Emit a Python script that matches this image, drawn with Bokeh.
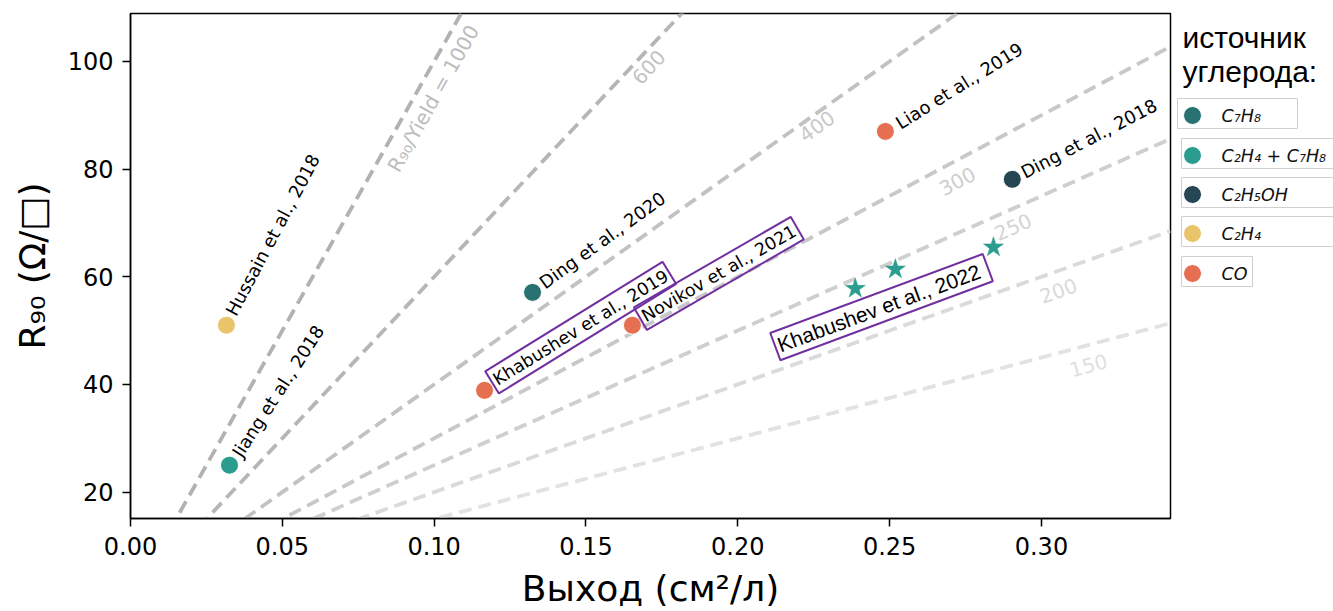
import numpy as np
from bokeh.plotting import figure
from bokeh.models import Range1d, FixedTicker, NumeralTickFormatter, ColumnDataSource
from bokeh.layouts import row
from bokeh.core.properties import value
from bokeh.embed import file_html
from bokeh.resources import INLINE

# ---------------------------------------------------------------- data
# Literature results: film yield (cm^2/L) against R90 (Ohm/sq)
studies = ["Hussain et al., 2018", "Jiang et al., 2018", "Ding et al., 2020",
           "Khabushev et al., 2019", "Novikov et al., 2021", "Liao et al., 2019",
           "Ding et al., 2018"]
yield_cm2_per_l = [0.0316, 0.0326, 0.1324, 0.1166, 0.1653, 0.2486, 0.2904]
r90_ohm_sq = [51.0, 25.0, 57.1, 38.9, 51.0, 87.0, 78.1]
carbon_source = ["C2H4", "C2H4+C7H8", "C7H8", "CO", "CO", "CO", "C2H5OH"]
boxed_study = [False, False, False, True, True, False, False]

# Khabushev et al., 2022 samples (stars)
khab2022_label = "Khabushev  et al., 2022"
khab2022_yield = [0.2387, 0.2519, 0.2842]
khab2022_r90 = [57.8, 61.4, 65.5]
khab2022_source = "C2H4+C7H8"

# constant R90 / Yield guide lines
ratio_levels = [1000, 600, 400, 300, 250, 200, 150]
ratio_texts = ["R₉₀/Yield = 1000", "600", "400", "300", "250", "200", "150"]

# carbon sources for the legend
source_keys = ["C7H8", "C2H4+C7H8", "C2H5OH", "C2H4", "CO"]
source_labels = ["C₇H₈", "C₂H₄ + C₇H₈", "C₂H₅OH", "C₂H₄", "CO"]
source_colors = ["#287271", "#2a9d8f", "#264653", "#e9c46a", "#e76f51"]

x_ticks = [0.0, 0.05, 0.10, 0.15, 0.20, 0.25, 0.30]
y_ticks = [20, 40, 60, 80, 100]
x_title = "Выход (см²/л)"
y_title = "R₉₀ (Ω/□)"

# ---------------------------------------------------------------- layout
W_MAIN, W_LEG, H = 1172, 161, 611
B_LEFT, B_RIGHT, B_TOP, B_BOTTOM = 130, 2, 13, 93
X0, X1 = 0.0, 0.3425
Y0, Y1 = 15.1, 108.9
px_per_x = (W_MAIN - B_LEFT - B_RIGHT) / (X1 - X0)
px_per_y = (H - B_TOP - B_BOTTOM) / (Y1 - Y0)

PURPLE = "#7030a0"
color_of = dict(zip(source_keys, source_colors))

p = figure(width=W_MAIN, height=H, x_range=Range1d(X0, X1), y_range=Range1d(Y0, Y1),
           output_backend="svg", toolbar_location=None,
           min_border_left=B_LEFT, min_border_right=B_RIGHT,
           min_border_top=B_TOP, min_border_bottom=B_BOTTOM)
p.grid.visible = False
p.outline_line_color = "black"
p.outline_line_width = 1.5
p.background_fill_color = "white"
p.border_fill_color = "white"

for ax in (p.xaxis[0], p.yaxis[0]):
    ax.axis_line_color = "black"
    ax.axis_line_width = 1.5
    ax.major_tick_line_color = "black"
    ax.major_tick_line_width = 1.5
    ax.major_tick_out = 8
    ax.major_tick_in = 0
    ax.minor_tick_line_color = None
    ax.major_label_text_font = "DejaVu Sans"
    ax.major_label_text_font_size = "24px"
    ax.major_label_text_color = "black"
    ax.axis_label_text_font = "DejaVu Sans"
    ax.axis_label_text_font_size = "36px"
    ax.axis_label_text_font_style = "normal"
    ax.axis_label_text_color = "black"

p.xaxis.ticker = FixedTicker(ticks=x_ticks)
p.xaxis.formatter = NumeralTickFormatter(format="0.00")
p.xaxis.major_label_standoff = 10
p.xaxis.axis_label = x_title
p.xaxis.axis_label_standoff = 10

p.yaxis.ticker = FixedTicker(ticks=y_ticks)
p.yaxis.major_label_standoff = 9
p.yaxis.axis_label = y_title
p.yaxis.axis_label_standoff = 12

# ---- guide lines y = k * x
line_colors = ["#b2b2b2", "#b6b6b6", "#c2c2c2", "#c8c8c8", "#cfcfcf", "#dadada", "#e2e2e2"]
text_colors = ["#bcbcbc", "#c2c2c2", "#c9c9c9", "#cecece", "#d4d4d4", "#d9d9d9", "#dfdfdf"]
xs_line = np.array([X0, X1])
for k, c in zip(ratio_levels, line_colors):
    p.line(xs_line, k * xs_line, line_color=c, line_width=3.8, line_dash="13 7")

level_label_x = np.array([0.0947, 0.1676, 0.2240, 0.2694, 0.2884, 0.3035, 0.3138])
level_label_gap = np.array([17.5, 13.0, 11.0, 19.0, 17.0, 19.0, 20.0])
k_arr = np.array(ratio_levels, dtype=float)
theta = np.arctan(k_arr * px_per_y / px_per_x)
lvl_src = ColumnDataSource(dict(
    x=level_label_x, y=k_arr * level_label_x, text=ratio_texts, angle=theta,
    xo=level_label_gap * np.sin(theta), yo=level_label_gap * np.cos(theta),
    color=text_colors))
p.text(x="x", y="y", text="text", angle="angle", x_offset="xo", y_offset="yo",
       source=lvl_src, text_color="color", text_align="center", text_baseline="middle",
       text_font=value("DejaVu Sans"), text_font_size="20px")

# ---- study points
pt_src = ColumnDataSource(dict(
    x=yield_cm2_per_l, y=r90_ohm_sq, name=studies,
    color=[color_of[s] for s in carbon_source]))
p.scatter(x="x", y="y", source=pt_src, marker="circle", size=18,
          fill_color="color", line_color="white", line_width=1)

star_src = ColumnDataSource(dict(x=khab2022_yield, y=khab2022_r90))
p.scatter(x="x", y="y", source=star_src, marker="star", size=21,
          fill_color=color_of[khab2022_source], line_color=color_of[khab2022_source],
          line_width=0.5)

# ---- point annotations (rotated)
label_angle_deg = [62, 57, 36, 31.7, 30, 32, 27.5]
label_dx = [4, 7, 9, 7.5, 8, 12, 10]
label_dy = [-11, -10, -8, -8, -6.5, -7, -6]

plain = [i for i, b in enumerate(boxed_study) if not b]
boxed = [i for i, b in enumerate(boxed_study) if b]


def ann_source(idx):
    return ColumnDataSource(dict(
        x=[yield_cm2_per_l[i] for i in idx], y=[r90_ohm_sq[i] for i in idx],
        text=[studies[i] for i in idx],
        angle=[np.deg2rad(label_angle_deg[i]) for i in idx],
        xo=[label_dx[i] for i in idx], yo=[label_dy[i] for i in idx]))


p.text(x="x", y="y", text="text", angle="angle", x_offset="xo", y_offset="yo",
       source=ann_source(plain), text_color="black", text_align="left",
       text_baseline="middle", text_font=value("DejaVu Sans"), text_font_size="18px")

p.text(x="x", y="y", text="text", angle="angle", x_offset="xo", y_offset="yo",
       source=ann_source(boxed), text_color="black", text_align="left",
       text_baseline="middle", text_font=value("DejaVu Sans"), text_font_size="17.5px",
       border_line_color=PURPLE, border_line_width=2, padding=3)

p.text(x=[khab2022_yield[0]], y=[khab2022_r90[0]], text=[khab2022_label],
       angle=np.deg2rad(20.4), x_offset=-80, y_offset=58, text_color="black",
       text_align="left", text_baseline="middle",
       text_font=value("Liberation Sans"), text_font_size="21px",
       border_line_color=PURPLE, border_line_width=2, padding=3)

# ---------------------------------------------------------------- legend panel
# the row layout aligns frames, so the panel's y range spans the same screen band
leg = figure(width=W_LEG, height=H, x_range=Range1d(0, W_LEG),
             y_range=Range1d(H - B_BOTTOM, B_TOP),
             output_backend="svg", toolbar_location=None, min_border_left=0,
             min_border_right=0, min_border_top=B_TOP, min_border_bottom=B_BOTTOM,
             x_axis_location=None, y_axis_location=None)
leg.grid.visible = False
leg.outline_line_color = None
leg.background_fill_color = "white"
leg.border_fill_color = "white"

leg.text(x=[10, 10], y=[37, 71], text=["источник", "углерода:"],
         text_font=value("Liberation Sans"), text_font_size="30px",
         text_color="black", text_baseline="middle", text_align="left")

row_y = [115, 155, 194, 233, 273]
box_left = [5, 9, 9, 9, 9]
box_right = [125, 175, 175, 175, 80]
leg.quad(left=box_left, right=box_right, top=[y - 17 for y in row_y],
         bottom=[y + 13 for y in row_y], fill_color=None, line_color="#cfcfcf",
         line_width=1)
leg_src = ColumnDataSource(dict(x=[20] * 5, y=row_y, color=source_colors,
                                text=source_labels, tx=[49] * 5))
leg.scatter(x="x", y="y", source=leg_src, marker="circle", size=18,
            fill_color="color", line_color="white", line_width=1)
leg.text(x="tx", y="y", text="text", source=leg_src, text_font=value("DejaVu Sans"),
         text_font_style="italic", text_font_size="17.5px", text_color="#111111",
         text_baseline="middle", text_align="left")

layout = row(p, leg, spacing=0)
open("out.html", "w").write(file_html(layout, INLINE))
